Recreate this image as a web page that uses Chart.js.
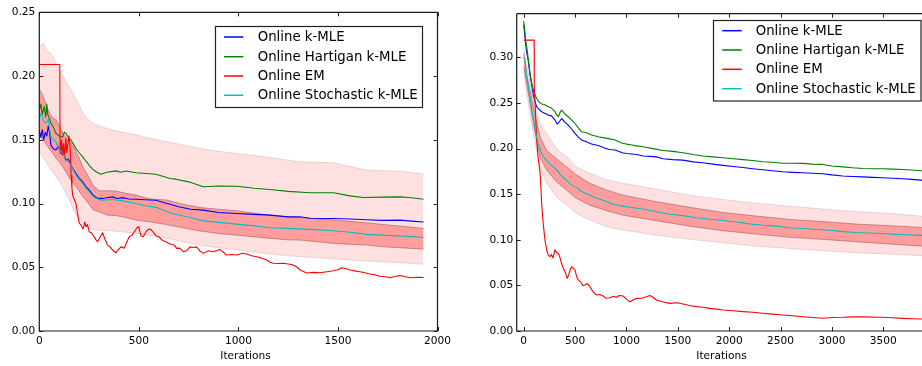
<!DOCTYPE html>
<html><head><meta charset="utf-8">
<script src="https://cdn.jsdelivr.net/npm/chart.js@4.4.1/dist/chart.umd.min.js"></script>
<style>
html,body{margin:0;padding:0;background:#fff;overflow:hidden;width:922px;height:366px;}
.c{position:absolute;top:0;}
</style></head><body>
<div class="c" style="left:0;width:470px;height:366px"><canvas id="left" width="470" height="366" style="width:470px;height:366px"></canvas></div>
<div class="c" style="left:480px;width:442px;height:366px"><canvas id="right" width="442" height="366" style="width:442px;height:366px"></canvas></div>
<script>
// ---------- shared ----------
const seriesNames = ['Online k-MLE', 'Online Hartigan k-MLE', 'Online EM', 'Online Stochastic k-MLE'];
const xTitle = 'Iterations';

// ---------- left panel ----------
const leftXTicks = [0, 500, 1000, 1500, 2000];
const leftYTicks = [0, 0.05, 0.10, 0.15, 0.20, 0.25];
const leftKMLE = [[0,0.157],[8,0.152],[15,0.158],[22,0.150],[30,0.156],[38,0.153],[45,0.161],[52,0.155],[58,0.146],[70,0.143],[84,0.142],[95,0.145],[109,0.139],[120,0.140],[134,0.134],[145,0.135],[159,0.130],[170,0.127],[184,0.1235],[200,0.120],[218,0.117],[235,0.113],[251,0.1105],[268,0.107],[285,0.1047],[300,0.104],[318,0.104],[340,0.1045],[368,0.1052],[390,0.104],[418,0.1046],[450,0.1035],[485,0.1034],[530,0.103],[586,0.1026],[620,0.101],[656,0.0995],[700,0.0975],[760,0.0955],[824,0.0948],[900,0.093],[991,0.0922],[1080,0.0915],[1159,0.0909],[1250,0.0895],[1309,0.0896],[1360,0.0885],[1477,0.0883],[1560,0.0878],[1644,0.0873],[1720,0.0868],[1812,0.087],[1870,0.0862],[1930,0.0855]];
const leftHartigan = [[0,0.173],[8,0.178],[15,0.170],[25,0.176],[32,0.168],[38,0.178],[42,0.170],[50,0.167],[59,0.163],[70,0.160],[84,0.155],[100,0.153],[117,0.152],[126,0.156],[134,0.155],[145,0.152],[159,0.1497],[170,0.147],[184,0.1431],[200,0.140],[218,0.1366],[235,0.133],[251,0.130],[268,0.127],[285,0.1249],[310,0.123],[340,0.1245],[385,0.1256],[410,0.1245],[435,0.1255],[485,0.1241],[540,0.1235],[586,0.123],[656,0.1196],[686,0.1191],[750,0.117],[824,0.1131],[900,0.1138],[991,0.1136],[1080,0.112],[1159,0.111],[1250,0.1095],[1360,0.1084],[1477,0.1084],[1560,0.106],[1628,0.1047],[1720,0.105],[1812,0.1052],[1870,0.1045],[1930,0.1034]];
const leftEM = [[0,0.209],[103,0.209],[104,0.148],[108,0.140],[112,0.150],[117,0.138],[122,0.147],[127,0.136],[133,0.151],[138,0.140],[143,0.146],[148,0.153],[153,0.148],[157,0.135],[160,0.122],[164,0.112],[168,0.106],[176,0.103],[184,0.100],[192,0.092],[201,0.0846],[210,0.083],[220,0.080],[228,0.0855],[234,0.0817],[242,0.0835],[251,0.0777],[262,0.077],[276,0.0739],[285,0.0715],[293,0.070],[305,0.0735],[318,0.077],[330,0.072],[343,0.0674],[355,0.066],[368,0.0635],[385,0.0614],[398,0.064],[410,0.066],[427,0.065],[440,0.070],[452,0.0739],[465,0.075],[477,0.0777],[490,0.081],[499,0.082],[510,0.0748],[522,0.074],[535,0.0777],[548,0.080],[561,0.0795],[575,0.077],[586,0.0748],[600,0.074],[619,0.071],[636,0.070],[653,0.0685],[678,0.0674],[690,0.0648],[705,0.065],[723,0.0622],[740,0.063],[757,0.066],[772,0.0655],[790,0.066],[805,0.063],[824,0.0609],[850,0.063],[874,0.0622],[907,0.064],[941,0.0596],[965,0.060],[991,0.0596],[1020,0.061],[1042,0.0604],[1065,0.059],[1092,0.0583],[1120,0.057],[1142,0.0557],[1160,0.054],[1175,0.0531],[1200,0.053],[1226,0.0531],[1250,0.0525],[1276,0.0518],[1295,0.050],[1309,0.0479],[1343,0.0455],[1380,0.046],[1410,0.0457],[1445,0.0465],[1477,0.0473],[1500,0.048],[1519,0.0496],[1540,0.049],[1561,0.0478],[1590,0.047],[1611,0.0465],[1640,0.0455],[1661,0.0447],[1690,0.044],[1711,0.043],[1740,0.0425],[1761,0.0418],[1790,0.043],[1812,0.0436],[1840,0.0425],[1862,0.0418],[1900,0.0422],[1930,0.042]];
const leftStochastic = [[0,0.1667],[10,0.171],[20,0.165],[34,0.163],[45,0.166],[52,0.158],[59,0.1523],[70,0.150],[84,0.1484],[95,0.144],[109,0.1405],[120,0.139],[134,0.1353],[159,0.130],[184,0.1222],[200,0.119],[218,0.1157],[235,0.112],[251,0.1092],[268,0.106],[285,0.104],[318,0.1026],[368,0.1031],[418,0.1021],[485,0.100],[530,0.0985],[586,0.097],[656,0.0927],[700,0.091],[760,0.089],[824,0.0864],[900,0.0852],[991,0.0838],[1080,0.0825],[1159,0.081],[1250,0.0805],[1360,0.0797],[1477,0.0786],[1560,0.0775],[1644,0.0758],[1720,0.0752],[1812,0.0745],[1870,0.074],[1930,0.0734]];
const leftBandX = [0,20,37,55,70,85,104,120,137,155,171,195,221,245,271,300,338,385,435,485,560,639,720,807,900,991,1075,1159,1250,1309,1400,1477,1560,1644,1730,1812,1870,1930];
const leftOuterHigh = [0.223,0.226,0.2203,0.218,0.215,0.210,0.204,0.200,0.195,0.190,0.186,0.179,0.1705,0.166,0.163,0.161,0.159,0.157,0.1555,0.154,0.151,0.1485,0.146,0.1432,0.141,0.1392,0.1378,0.1361,0.134,0.1327,0.1323,0.132,0.129,0.1262,0.1258,0.1254,0.1243,0.1231];
const leftOuterLow = [0.140,0.136,0.132,0.127,0.124,0.121,0.117,0.112,0.107,0.1015,0.095,0.088,0.0844,0.081,0.0795,0.079,0.0788,0.0782,0.0775,0.0765,0.0748,0.0728,0.070,0.0674,0.0652,0.0635,0.062,0.0604,0.059,0.0583,0.0574,0.0565,0.0557,0.0549,0.0542,0.0536,0.053,0.0523];
const leftInnerHigh = [0.190,0.184,0.176,0.170,0.167,0.1654,0.160,0.155,0.151,0.148,0.145,0.1375,0.128,0.1215,0.114,0.110,0.110,0.1098,0.108,0.1066,0.1035,0.1028,0.0995,0.0969,0.0955,0.0943,0.0925,0.0909,0.0895,0.089,0.088,0.087,0.086,0.0849,0.0835,0.0823,0.0814,0.0805];
const leftInnerLow = [0.153,0.150,0.146,0.142,0.139,0.1353,0.132,0.128,0.124,0.119,0.116,0.111,0.105,0.1005,0.095,0.0935,0.091,0.0905,0.089,0.087,0.0855,0.0835,0.081,0.0785,0.0765,0.0752,0.074,0.0726,0.0715,0.0713,0.070,0.0687,0.068,0.0674,0.066,0.0653,0.0648,0.0643];

// ---------- right panel ----------
const rightXTicks = [0, 500, 1000, 1500, 2000, 2500, 3000, 3500];
const rightYTicks = [0, 0.05, 0.10, 0.15, 0.20, 0.25, 0.30];
const rightKMLE = [[0,0.336],[10,0.325],[20,0.314],[29,0.306],[45,0.296],[61,0.282],[78,0.27],[94,0.2586],[110,0.252],[126,0.246],[150,0.243],[175,0.2405],[200,0.239],[240,0.2368],[270,0.236],[305,0.2313],[320,0.228],[331,0.227],[350,0.230],[370,0.2331],[400,0.229],[434,0.2258],[470,0.221],[499,0.2167],[530,0.213],[564,0.2094],[610,0.2075],[660,0.205],[726,0.2035],[780,0.201],[830,0.199],[889,0.1985],[960,0.1955],[1001,0.1947],[1051,0.1941],[1100,0.1935],[1163,0.192],[1230,0.1915],[1292,0.191],[1357,0.189],[1450,0.188],[1551,0.1874],[1650,0.1855],[1745,0.1845],[1840,0.183],[1940,0.1816],[2040,0.1805],[2134,0.1794],[2230,0.178],[2328,0.1768],[2420,0.1757],[2523,0.1746],[2620,0.174],[2717,0.1735],[2810,0.173],[2911,0.1725],[3000,0.1712],[3105,0.170],[3200,0.1695],[3300,0.169],[3400,0.1685],[3494,0.168],[3590,0.1675],[3688,0.167],[3780,0.1663],[3866,0.1655],[3950,0.165]];
const rightHartigan = [[0,0.340],[10,0.330],[20,0.318],[29,0.312],[45,0.298],[61,0.2825],[78,0.272],[94,0.264],[110,0.259],[126,0.255],[150,0.251],[175,0.249],[200,0.2485],[240,0.246],[270,0.2445],[305,0.2405],[320,0.237],[337,0.235],[355,0.240],[370,0.2423],[400,0.238],[434,0.235],[470,0.231],[499,0.2276],[530,0.223],[564,0.2185],[612,0.2174],[660,0.215],[726,0.213],[800,0.2115],[889,0.2094],[960,0.206],[1001,0.205],[1051,0.204],[1100,0.203],[1163,0.202],[1260,0.200],[1357,0.198],[1450,0.197],[1551,0.1955],[1650,0.1935],[1745,0.192],[1840,0.191],[1940,0.190],[2040,0.189],[2134,0.188],[2230,0.187],[2328,0.1856],[2420,0.185],[2523,0.184],[2620,0.184],[2717,0.1838],[2810,0.183],[2911,0.1827],[3000,0.181],[3105,0.180],[3200,0.179],[3300,0.1783],[3400,0.178],[3494,0.178],[3590,0.1775],[3688,0.1772],[3780,0.1765],[3866,0.1758],[3950,0.175]];
const rightEM = [[0,0.319],[102,0.319],[103,0.270],[115,0.240],[126,0.210],[140,0.190],[159,0.175],[175,0.140],[190,0.118],[207,0.100],[225,0.088],[240,0.083],[256,0.0815],[270,0.084],[285,0.080],[304,0.089],[320,0.086],[337,0.085],[355,0.080],[369,0.074],[385,0.069],[402,0.065],[415,0.061],[424,0.0577],[440,0.062],[455,0.068],[466,0.0705],[480,0.069],[499,0.067],[515,0.060],[531,0.056],[560,0.053],[575,0.050],[596,0.0504],[620,0.052],[644,0.0486],[670,0.044],[690,0.041],[709,0.0395],[740,0.040],[774,0.0384],[800,0.036],[839,0.0365],[870,0.038],[903,0.037],[930,0.039],[968,0.0384],[1000,0.035],[1033,0.032],[1065,0.034],[1098,0.0358],[1150,0.036],[1195,0.0376],[1227,0.039],[1260,0.037],[1292,0.034],[1350,0.032],[1422,0.0303],[1490,0.031],[1551,0.0296],[1616,0.028],[1681,0.0267],[1745,0.026],[1810,0.0248],[1875,0.024],[1940,0.023],[2040,0.0222],[2134,0.0212],[2230,0.0205],[2328,0.0194],[2420,0.0185],[2523,0.0175],[2620,0.0168],[2717,0.0157],[2810,0.0148],[2911,0.0139],[3000,0.0148],[3105,0.015],[3200,0.0155],[3300,0.0157],[3400,0.0152],[3494,0.015],[3590,0.0145],[3688,0.0139],[3780,0.0135],[3866,0.0132],[3950,0.013]];
const rightStochastic = [[0,0.300],[13,0.296],[29,0.280],[45,0.268],[61,0.257],[78,0.243],[94,0.233],[110,0.221],[126,0.212],[142,0.205],[159,0.200],[175,0.195],[200,0.190],[240,0.185],[288,0.180],[320,0.177],[353,0.172],[370,0.170],[418,0.165],[470,0.160],[515,0.157],[564,0.153],[612,0.1505],[680,0.147],[742,0.1445],[806,0.142],[871,0.139],[968,0.137],[1051,0.1355],[1163,0.1335],[1292,0.1308],[1420,0.128],[1551,0.1265],[1680,0.1242],[1810,0.1225],[1940,0.1212],[2070,0.1195],[2200,0.1175],[2328,0.116],[2460,0.115],[2587,0.1133],[2717,0.1125],[2850,0.1114],[2980,0.1105],[3105,0.109],[3235,0.108],[3360,0.1075],[3494,0.107],[3620,0.106],[3750,0.1055],[3866,0.1049],[3950,0.1045]];
const rightBandX = [0,29,94,159,223,320,418,515,644,806,968,1292,1616,1940,2264,2587,2911,3235,3559,3866,3950];
const rightOuterHigh = [0.310,0.293,0.253,0.2276,0.2167,0.200,0.191,0.180,0.173,0.166,0.162,0.1556,0.149,0.1443,0.140,0.137,0.1337,0.131,0.129,0.126,0.1255];
const rightOuterLow = [0.285,0.260,0.2167,0.180,0.162,0.147,0.138,0.129,0.1217,0.1144,0.1107,0.105,0.1005,0.0968,0.093,0.0906,0.088,0.0859,0.0844,0.0826,0.082];
const rightInnerHigh = [0.305,0.282,0.246,0.213,0.198,0.189,0.180,0.171,0.162,0.1545,0.149,0.1418,0.1356,0.130,0.126,0.1224,0.120,0.1173,0.1155,0.1136,0.113];
const rightInnerLow = [0.290,0.2715,0.2276,0.191,0.1765,0.1637,0.1545,0.1454,0.138,0.132,0.127,0.121,0.115,0.110,0.1063,0.1027,0.1005,0.098,0.0953,0.0932,0.0925];

// ---------- styling ----------
const lineColors = ['#0000ff', '#008000', '#ff0000', '#00bfbf'];
const FONT = '"DejaVu Sans", "Liberation Sans", sans-serif';

function pts(pairs) { return pairs.map(p => ({x: p[0], y: p[1]})); }
function zipPts(xs, ys) { return xs.map((x, i) => ({x, y: ys[i]})); }

function lineDs(i, pairs, order) {
  return {label: seriesNames[i], data: pts(pairs), borderColor: lineColors[i], borderWidth: 1.1,
          pointRadius: 0, fill: false, tension: 0, order};
}
function bandDs(xs, hi, lo, face, edge, order) {
  return [
    {label: 'band-hi', data: zipPts(xs, hi), borderColor: edge, borderWidth: 1, pointRadius: 0,
     backgroundColor: face, fill: '+1', tension: 0, order},
    {label: 'band-lo', data: zipPts(xs, lo), borderColor: edge, borderWidth: 1, pointRadius: 0,
     fill: false, tension: 0, order}
  ];
}

const mplPlugin = {
  id: 'mpl',
  afterDatasetsDraw(chart, args, o) {
    const {ctx, chartArea: a, scales: {x, y}} = chart;
    ctx.save();
    // inward tick marks
    ctx.strokeStyle = '#222'; ctx.lineWidth = 1;
    ctx.beginPath();
    const tl = 4;
    x.ticks.forEach(t => {
      const px = Math.round(x.getPixelForValue(t.value)) + 0.5;
      ctx.moveTo(px, a.bottom); ctx.lineTo(px, a.bottom - tl);
      ctx.moveTo(px, a.top); ctx.lineTo(px, a.top + tl);
    });
    y.ticks.forEach(t => {
      const py = Math.round(y.getPixelForValue(t.value)) + 0.5;
      ctx.moveTo(a.left, py); ctx.lineTo(a.left + tl, py);
      if (o.rightSpine) { ctx.moveTo(a.right, py); ctx.lineTo(a.right - tl, py); }
    });
    ctx.stroke();
    // spines
    ctx.strokeStyle = '#1a1a1a'; ctx.lineWidth = 1.2;
    ctx.beginPath();
    ctx.moveTo(a.left, a.top); ctx.lineTo(a.left, a.bottom); ctx.lineTo(a.right, a.bottom);
    ctx.moveTo(a.left, a.top); ctx.lineTo(a.right, a.top);
    if (o.rightSpine) { ctx.moveTo(a.right, a.top); ctx.lineTo(a.right, a.bottom); }
    ctx.stroke();
    // legend
    const L = o.legend;
    ctx.fillStyle = '#fff';
    ctx.fillRect(L.x, L.y, L.w, L.h);
    ctx.strokeStyle = '#222'; ctx.lineWidth = 1.2;
    ctx.strokeRect(L.x, L.y, L.w, L.h);
    ctx.font = '13.3px ' + FONT;
    ctx.textBaseline = 'middle'; ctx.textAlign = 'left';
    seriesNames.forEach((name, i) => {
      const yy = L.rows[i];
      ctx.strokeStyle = lineColors[i]; ctx.lineWidth = 1.5;
      ctx.beginPath(); ctx.moveTo(L.lx0, yy); ctx.lineTo(L.lx1, yy); ctx.stroke();
      ctx.fillStyle = '#000';
      ctx.fillText(name, L.tx, yy + 0.5);
    });
    // x-axis title
    ctx.font = '10.6px ' + FONT;
    ctx.textAlign = 'center';
    ctx.fillStyle = '#000';
    ctx.fillText(xTitle, o.titleX, o.titleY);
    ctx.restore();
  }
};

function makeChart(id, cfg) {
  const datasets = [
    ...bandDs(cfg.bandX, cfg.outerHi, cfg.outerLo, 'rgba(255,0,0,0.12)', 'rgba(150,110,110,0.22)', 20),
    ...bandDs(cfg.bandX, cfg.innerHi, cfg.innerLo, 'rgba(255,0,0,0.30)', 'rgba(120,60,60,0.45)', 19),
    lineDs(0, cfg.series[0], 4),
    lineDs(1, cfg.series[1], 3),
    lineDs(2, cfg.series[2], 2),
    lineDs(3, cfg.series[3], 1)
  ];
  return new Chart(document.getElementById(id), {
    type: 'line',
    data: {datasets},
    options: {
      responsive: false, animation: false, devicePixelRatio: 1,
      layout: {padding: cfg.padding},
      plugins: {legend: {display: false}, tooltip: {enabled: false}, mpl: cfg.mpl},
      elements: {line: {borderCapStyle: 'butt', borderJoinStyle: 'round'}},
      scales: {
        x: {type: 'linear', min: cfg.xMin, max: cfg.xMax,
            grid: {display: false, drawTicks: false}, border: {display: false},
            afterBuildTicks: s => { s.ticks = cfg.xTicks.map(v => ({value: v})); },
            ticks: {maxRotation: 0, autoSkip: false, padding: 3.4,
                    color: '#000', font: {family: FONT, size: 10.6}, callback: v => String(v)},
            afterFit: s => { s.height = 35; }},
        y: {type: 'linear', min: 0, max: cfg.yMax,
            grid: {display: false, drawTicks: false}, border: {display: false},
            afterBuildTicks: s => { s.ticks = cfg.yTicks.map(v => ({value: v})); },
            ticks: {autoSkip: false, padding: cfg.yPad,
                    color: '#000', font: {family: FONT, size: 10.6}, callback: v => Number(v).toFixed(2)},
            afterFit: s => { s.width = cfg.yWidth; }}
      }
    },
    plugins: [mplPlugin]
  });
}

makeChart('left', {
  series: [leftKMLE, leftHartigan, leftEM, leftStochastic],
  bandX: leftBandX, outerHi: leftOuterHigh, outerLo: leftOuterLow, innerHi: leftInnerHigh, innerLo: leftInnerLow,
  xTicks: leftXTicks, yTicks: leftYTicks,
  xMin: 0, xMax: 2000, yMax: 0.25,
  padding: {left: 0, top: 12.3, right: 32.5, bottom: 0}, yWidth: 39.3, yPad: 4,
  mpl: {rightSpine: true, titleX: 245.5, titleY: 356.7,
        legend: {x: 215.5, y: 26.5, w: 207, h: 81, rows: [37, 56.7, 76, 95.3], lx0: 224, lx1: 243.3, tx: 257.7}}
});

makeChart('right', {
  series: [rightKMLE, rightHartigan, rightEM, rightStochastic],
  bandX: rightBandX, outerHi: rightOuterHigh, outerLo: rightOuterLow, innerHi: rightInnerHigh, innerLo: rightInnerLow,
  xTicks: rightXTicks, yTicks: rightYTicks,
  xMin: -68, xMax: 3877, yMax: 0.348,
  padding: {left: 0, top: 13.7, right: 0, bottom: 0}, yWidth: 36.7, yPad: 3.5,
  mpl: {rightSpine: false, titleX: 241.5, titleY: 356.7,
        legend: {x: 233.5, y: 20.5, w: 207.5, h: 80.5, rows: [30.7, 50, 69.3, 88.7], lx0: 242.3, lx1: 261.7, tx: 275.7}}
});
</script>
</body></html>
